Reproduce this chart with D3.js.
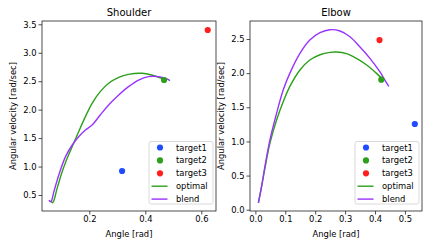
<!DOCTYPE html>
<html>
<head>
<meta charset="utf-8">
<script src="https://cdn.jsdelivr.net/npm/d3@7"></script>
<style>
body { margin: 0; background: #fff; }
text { font-family: "DejaVu Sans", sans-serif; fill: #000; }
</style>
</head>
<body>
<svg width="436" height="247"></svg>
<script>
// target points [angle, velocity]
var targetNames = ["target1", "target2", "target3"];
var targetColors = ["#1f4cff", "#2ca01a", "#ff1f1f"];
var shoulderTargets = [[0.317, 0.922], [0.467, 2.521], [0.623, 3.40]];
var elbowTargets = [[0.533, 1.255], [0.421, 1.904], [0.415, 2.485]];

// trajectories
var shoulderOptimal = [[0.062,0.40],[0.068,0.365],[0.073,0.40],[0.085,0.617],[0.103,0.91],[0.121,1.145],
  [0.144,1.408],[0.162,1.613],[0.186,1.877],[0.210,2.111],[0.239,2.316],[0.269,2.463],[0.305,2.568],
  [0.340,2.621],[0.388,2.639],[0.423,2.609],[0.459,2.551],[0.477,2.52]];
var shoulderBlend = [[0.056,0.41],[0.060,0.385],[0.064,0.39],[0.073,0.55],[0.091,0.852],[0.115,1.174],
  [0.139,1.379],[0.162,1.525],[0.186,1.643],[0.210,1.730],[0.239,1.906],[0.269,2.082],[0.305,2.258],
  [0.340,2.404],[0.376,2.521],[0.411,2.580],[0.447,2.580],[0.475,2.545],[0.488,2.51]];
var elbowOptimal = [[0.010,0.10],[0.0206,0.337],[0.0318,0.605],[0.0485,0.971],[0.0708,1.313],[0.093,1.582],
  [0.115,1.802],[0.149,2.046],[0.182,2.192],[0.216,2.270],[0.249,2.304],[0.271,2.309],[0.305,2.285],
  [0.338,2.216],[0.372,2.119],[0.405,1.997],[0.428,1.899]];
var elbowBlend = [[0.010,0.10],[0.0206,0.337],[0.0318,0.630],[0.0485,1.020],[0.0708,1.411],[0.093,1.753],
  [0.115,1.997],[0.149,2.290],[0.182,2.485],[0.216,2.592],[0.249,2.636],[0.283,2.617],[0.316,2.534],
  [0.349,2.387],[0.383,2.217],[0.416,2.021],[0.433,1.899],[0.446,1.805]];

var shoulderXTicks = [0.2, 0.4, 0.6];
var shoulderYTicks = [0.5, 1.0, 1.5, 2.0, 2.5, 3.0, 3.5];
var elbowXTicks = [0.0, 0.1, 0.2, 0.3, 0.4, 0.5];
var elbowYTicks = [0.0, 0.5, 1.0, 1.5, 2.0, 2.5];

var optColor = "#2ca01a", blendColor = "#9933ff";

var svg = d3.select("svg");
var fs = 8.4;

function panel(opt) {
  var x = d3.scaleLinear().domain(opt.xd).range([opt.left, opt.right]);
  var y = d3.scaleLinear().domain(opt.yd).range([211, 21]);
  var g = svg.append("g");

  g.append("text")
    .attr("x", (opt.left + opt.right) / 2)
    .attr("y", 16)
    .attr("text-anchor", "middle")
    .style("font-size", "10px")
    .text(opt.title);

  var xAxis = g.append("g")
    .attr("transform", "translate(0,211)")
    .call(d3.axisBottom(x).tickValues(opt.xt).tickFormat(d3.format(".1f")).tickSize(3.5).tickPadding(2));
  var yAxis = g.append("g")
    .attr("transform", "translate(" + opt.left + ",0)")
    .call(d3.axisLeft(y).tickValues(opt.yt).tickFormat(d3.format(".1f")).tickSize(3.5).tickPadding(2));
  [xAxis, yAxis].forEach(function(a) {
    a.select(".domain").remove();
    a.selectAll("text").style("font-size", fs + "px").attr("fill", "#000");
    a.selectAll("line").attr("stroke", "#222").attr("stroke-width", 0.8);
  });

  g.append("text")
    .attr("x", (opt.left + opt.right) / 2)
    .attr("y", 236.5)
    .attr("text-anchor", "middle")
    .style("font-size", fs + "px")
    .text("Angle [rad]");
  g.append("text")
    .attr("transform", "translate(" + opt.ylx + ",116) rotate(-90)")
    .attr("text-anchor", "middle")
    .style("font-size", fs + "px")
    .text("Angular velocity [rad/sec]");

  var line = d3.line()
    .x(function(d) { return x(d[0]); })
    .y(function(d) { return y(d[1]); })
    .curve(d3.curveCatmullRom);

  g.append("path").datum(opt.optimal)
    .attr("d", line).attr("fill", "none")
    .attr("stroke", optColor).attr("stroke-width", 1.4);
  g.append("path").datum(opt.blend)
    .attr("d", line).attr("fill", "none")
    .attr("stroke", blendColor).attr("stroke-width", 1.4);

  g.selectAll(".pt").data(opt.targets).enter().append("circle")
    .attr("cx", function(d) { return x(d[0]); })
    .attr("cy", function(d) { return y(d[1]); })
    .attr("r", 3.1)
    .attr("fill", function(d, i) { return targetColors[i]; });

  g.append("rect")
    .attr("x", opt.left).attr("y", 21)
    .attr("width", opt.right - opt.left).attr("height", 190)
    .attr("fill", "none").attr("stroke", "#222").attr("stroke-width", 0.8);

  // legend
  var lx = opt.right - 67, ly = 141.5;
  var leg = g.append("g").attr("transform", "translate(" + lx + "," + ly + ")");
  leg.append("rect")
    .attr("width", 64).attr("height", 62.5).attr("rx", 2)
    .attr("fill", "#fff").attr("fill-opacity", 0.8)
    .attr("stroke", "#d0d0d0").attr("stroke-width", 0.8);
  var rowY = function(i) { return 6 + i * 12.9; };
  targetNames.forEach(function(n, i) {
    leg.append("circle").attr("cx", 11).attr("cy", rowY(i)).attr("r", 3.1).attr("fill", targetColors[i]);
    leg.append("text").attr("x", 27).attr("y", rowY(i) + 3).style("font-size", fs + "px").text(n);
  });
  [["optimal", optColor], ["blend", blendColor]].forEach(function(e, j) {
    var i = j + 3;
    leg.append("line").attr("x1", 2.5).attr("x2", 18.5).attr("y1", rowY(i)).attr("y2", rowY(i))
      .attr("stroke", e[1]).attr("stroke-width", 1.4);
    leg.append("text").attr("x", 27).attr("y", rowY(i) + 3).style("font-size", fs + "px").text(e[0]);
  });
}

panel({ title: "Shoulder", left: 42, right: 216, xd: [0.031, 0.6525], yd: [0.219, 3.558],
  xt: shoulderXTicks, yt: shoulderYTicks, ylx: 15.5, optimal: shoulderOptimal, blend: shoulderBlend,
  targets: shoulderTargets });
panel({ title: "Elbow", left: 250, right: 422, xd: [-0.018, 0.557], yd: [-0.019, 2.764],
  xt: elbowXTicks, yt: elbowYTicks, ylx: 223.5, optimal: elbowOptimal, blend: elbowBlend,
  targets: elbowTargets });
</script>
</body>
</html>
